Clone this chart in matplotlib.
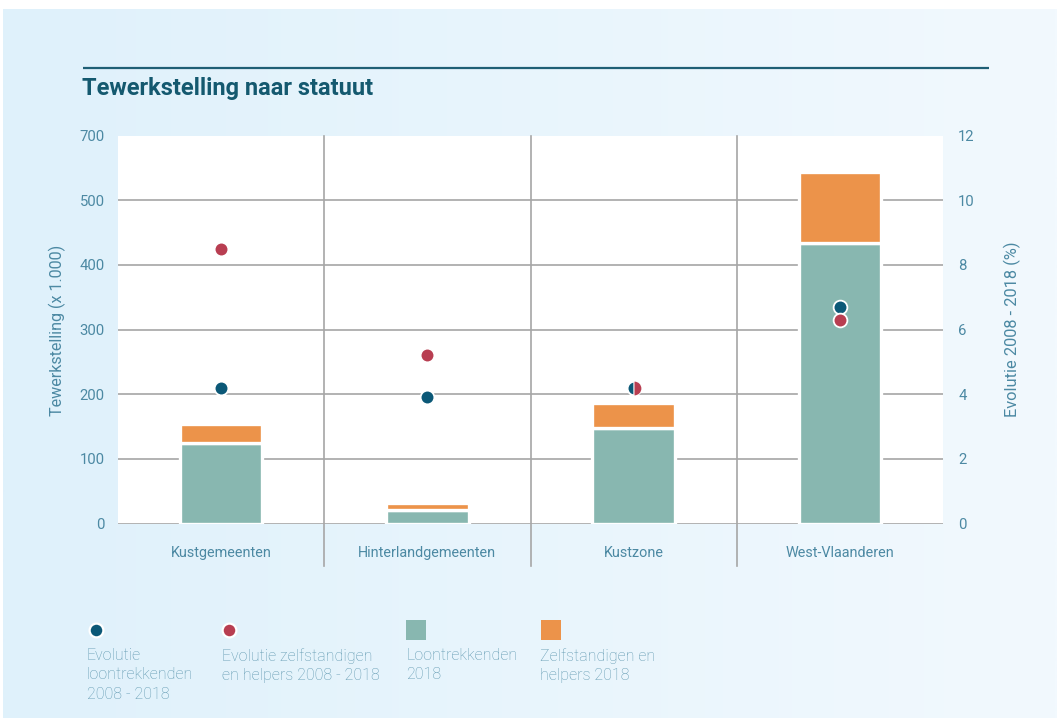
import numpy as np
import matplotlib
matplotlib.use("Agg")
import matplotlib.pyplot as plt
from matplotlib.patches import Rectangle
import matplotlib.transforms as mtransforms

# ---------------- data ----------------
categories = ["Kustgemeenten", "Hinterlandgemeenten", "Kustzone", "West-Vlaanderen"]
loontrekkenden_2018 = [125, 21, 147, 433]          # x 1.000
zelfstandigen_2018 = [29, 10, 39, 111]             # x 1.000
evolutie_loontrekkenden = [4.2, 3.9, 4.2, 6.7]     # %
evolutie_zelfstandigen = [8.5, 5.2, 4.2, 6.3]      # %
left_ticks = [0, 100, 200, 300, 400, 500, 600]
left_tick_labels = ["0", "100", "200", "300", "400", "500", "700"]
right_ticks = [0, 2, 4, 6, 8, 10, 12]
right_tick_labels = ["0", "2", "4", "6", "8", "10", "12"]
legend_labels = ["Evolutie\nloontrekkenden\n2008 - 2018",
                 "Evolutie zelfstandigen\nen helpers 2008 - 2018",
                 "Loontrekkenden\n2018",
                 "Zelfstandigen en\nhelpers 2018"]
title = "Tewerkstelling naar statuut"
ylabel_left = "Tewerkstelling (x 1.000)"
ylabel_right = "Evolutie 2008 - 2018 (%)"

# ---------------- style ----------------
C_BLUE = "#0b5877"
C_RED = "#b83e51"
C_TEAL = "#88b7b0"
C_ORANGE = "#ec934a"
C_TEXT = "#4c89a3"
C_LEG = "#5f98b0"
C_TITLE = "#14596f"
C_GRID = "#a6a6a6"
FONT = ["Roboto", "DejaVu Sans"]
plt.rcParams["font.family"] = FONT

W, H = 1057, 718
fig = plt.figure(figsize=(W / 100, H / 100), dpi=100)
fig.patch.set_facecolor("white")

def fx(px):
    return px / W

def fy(py):
    return 1 - py / H

# background gradient panel
bg = fig.add_axes([0, 0, 1, 1], zorder=-10)
bg.axis("off")
grad = np.linspace(0, 1, 256)[None, :, None]
c0 = np.array([223, 241, 251]) / 255
c1 = np.array([242, 249, 254]) / 255
img = c0 + (c1 - c0) * grad
bg.imshow(img, extent=[3, W, H, 9], aspect="auto", interpolation="bilinear")
bg.set_xlim(0, W)
bg.set_ylim(H, 0)

# title line and title
bg.plot([83, 989], [68, 68], color="#1f5f75", lw=1.6, solid_capstyle="butt")
bg.text(82, 88, title, fontsize=17, fontweight="bold", color=C_TITLE,
        ha="left", va="center", family=FONT)

# main axes
ax_l, ax_r, ax_t, ax_b = 118, 943, 135.5, 523.5
ax = fig.add_axes([fx(ax_l), fy(ax_b), (ax_r - ax_l) / W, (ax_b - ax_t) / H])
ax.set_facecolor("white")
x = np.arange(len(categories))
ax.set_xlim(-0.5, len(categories) - 0.5)
ax.set_ylim(0, 600)
for s in ax.spines.values():
    s.set_visible(False)

# horizontal gridlines
for v in left_ticks:
    ax.axhline(v, color=C_GRID, lw=1.2, zorder=0.5)

# vertical separators extending below the axes
trans = mtransforms.blended_transform_factory(ax.transData, ax.transAxes)
for sep in x[:-1] + 0.5:
    ax.plot([sep, sep], [1, -(566 - ax_b) / (ax_b - ax_t)], color=C_GRID, lw=1.2,
            transform=trans, clip_on=False, zorder=0.5)

# stacked bars
bw = 0.4
ax.bar(x, loontrekkenden_2018, width=bw, color=C_TEAL, edgecolor="white",
       linewidth=2.4, zorder=2)
ax.bar(x, zelfstandigen_2018, width=bw, bottom=loontrekkenden_2018, color=C_ORANGE,
       edgecolor="white", linewidth=2.4, zorder=2)

ax.set_yticks(left_ticks)
ax.set_yticklabels(left_tick_labels)
ax.set_xticks(x)
ax.set_xticklabels(categories)
ax.tick_params(axis="y", length=0, pad=9.5, labelsize=10.7, labelcolor=C_TEXT)
ax.tick_params(axis="x", length=0, pad=16, labelsize=10.4, labelcolor=C_TEXT)

# right axis with dots
ax2 = ax.twinx()
ax2.set_ylim(0, 12)
for s in ax2.spines.values():
    s.set_visible(False)
ax2.set_yticks(right_ticks)
ax2.set_yticklabels(right_tick_labels)
ax2.tick_params(axis="y", length=0, pad=11, labelsize=10.7, labelcolor=C_TEXT)

ms, mew = 9.9, 1.3
for xi, a, b in zip(x, evolutie_loontrekkenden, evolutie_zelfstandigen):
    if abs(a - b) < 0.05:
        ax2.plot([xi], [a], "o", ms=ms, mfc=C_BLUE, mec="white", mew=mew,
                 fillstyle="left", markerfacecoloralt="none", zorder=3)
        ax2.plot([xi], [b], "o", ms=ms, mfc=C_RED, mec="none", mew=0,
                 fillstyle="right", markerfacecoloralt="none", zorder=4)
    else:
        ax2.plot([xi], [a], "o", ms=ms, mfc=C_BLUE, mec="white", mew=mew, zorder=3)
        ax2.plot([xi], [b], "o", ms=ms, mfc=C_RED, mec="white", mew=mew, zorder=4)

# axis titles
fig.text(fx(57), fy(330), ylabel_left, rotation=90, ha="center", va="center",
         fontsize=11.6, color=C_TEXT)
fig.text(fx(1012), fy(329), ylabel_right, rotation=90, ha="center", va="center",
         fontsize=11.8, color=C_TEXT)

# legend (manual, markers above text)
leg_marker_x = [95.7, 229, 416, 551]
leg_text_x = [87, 222, 406, 540]
leg_y = 630
bg.plot([leg_marker_x[0]], [leg_y], "o", ms=ms, mfc=C_BLUE, mec="white", mew=1.6)
bg.plot([leg_marker_x[1]], [leg_y], "o", ms=ms, mfc=C_RED, mec="white", mew=1.6)
bg.add_patch(Rectangle((leg_marker_x[2] - 10, leg_y - 10), 20, 20, color=C_TEAL, lw=0))
bg.add_patch(Rectangle((leg_marker_x[3] - 10, leg_y - 10), 20, 20, color=C_ORANGE, lw=0))
for tx, lab in zip(leg_text_x, legend_labels):
    bg.text(tx, 648, lab, ha="left", va="top", fontsize=11.5, color=C_LEG,
            linespacing=1.36, fontweight="light")

fig.savefig("out.png", dpi=100, facecolor="white")
